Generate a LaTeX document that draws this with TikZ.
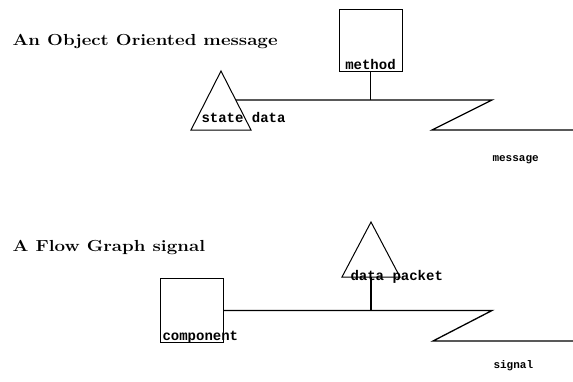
\documentclass[tikz,border=0pt]{standalone}
\usepackage{fontspec}
\newfontfamily\lblfont{Liberation Mono}
\usetikzlibrary{positioning}
\usetikzlibrary{calc}

\tikzset{
  heading/.style={anchor=base west, inner sep=0pt, font=\fontsize{16}{19}\selectfont\bfseries, xscale=1.17, transform shape},
  lbl/.style={anchor=base west, inner sep=0pt, font=\fontsize{14}{16}\selectfont\lblfont\bfseries},
  smalllbl/.style={anchor=base west, inner sep=0pt, font=\fontsize{11}{13}\selectfont\lblfont\bfseries},
  unitbox/.style={draw, line width=1pt, minimum width=63pt, minimum height=62pt, inner sep=0pt},
  wire/.style={line width=1.3pt, line join=miter}
}

\begin{document}
\begin{tikzpicture}[x=1pt, y=-1pt, line width=1pt]
	\useasboundingbox (0,0) rectangle (573,381);

	% the object oriented message
	\node[heading] (oohead) at (12,45) {An Object Oriented message};
	\node[unitbox] (method) at (370.5,40.5) {};
	\node[lbl, anchor=base] (methodlbl) at (370.5,69) {method};

	\coordinate (state) at (221,71);
	\draw (state) -- (251,130) -- (191,130) -- cycle;
	\node[lbl] (statelbl) at (201,122) {state data};

	\coordinate (oojoin) at (236,100);
	\coordinate (oobend) at (492,100);
	\coordinate (oofoot) at (432,130);
	\coordinate (ooend) at (573,130);
	\draw[wire] (oojoin) -- (oobend) -- (oofoot) -- (ooend);
	\draw[wire] (method.south) -- (method.south |- oojoin);
	\node[smalllbl] (msglbl) at (492,161) {message};

	% the flow graph signal
	\node[heading] (fghead) at (12,251) {A Flow Graph signal};
	\node[unitbox, minimum height=64pt] (component) at (191.5,310.5) {};
	\node[lbl] (complbl) at (162,340) {component};

	\coordinate (packet) at (371,222);
	\draw (packet) -- (400,277) -- (342,277) -- cycle;
	\coordinate (packetbase) at (371,277);
	\node[lbl] (packetlbl) at (350,280) {data packet};

	\coordinate (fgbend) at (492,310.5);
	\coordinate (fgfoot) at (433,341);
	\coordinate (fgend) at (573,341);
	\draw[wire] (component.east) -- (fgbend) -- (fgfoot) -- (fgend);
	\draw[wire] (packetbase) -- (packetbase |- component.east);
	\node[smalllbl] (siglbl) at (493,368) {signal};
\end{tikzpicture}
\end{document}
